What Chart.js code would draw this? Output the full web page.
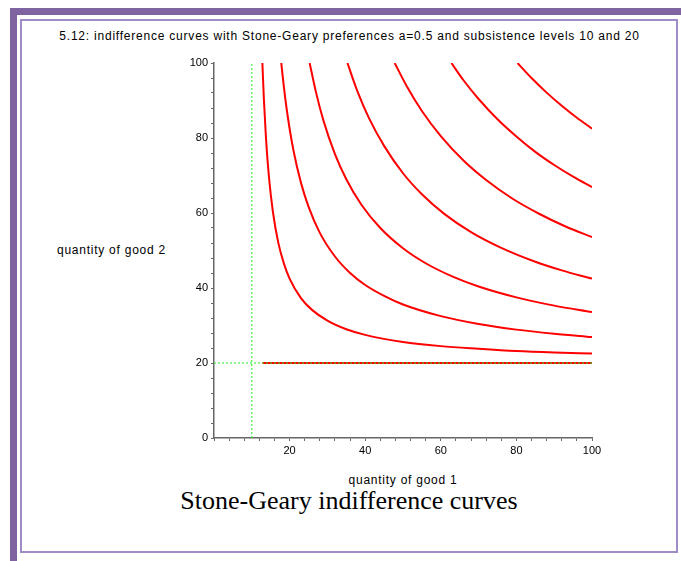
<!DOCTYPE html>
<html>
<head>
<meta charset="utf-8">
<script src="https://cdn.jsdelivr.net/npm/chart.js@4/dist/chart.umd.min.js"></script>
<style>
  html, body { margin: 0; padding: 0; background: #fff; }
  #page { position: relative; width: 681px; height: 561px; overflow: hidden; background: #fff; }
  #outer { position: absolute; left: 10px; top: 8px; width: 690px; height: 560px;
           border-left: 7px solid #8064a2; border-top: 7px solid #8064a2; border-bottom: 5px solid #8064a2; box-sizing: border-box; }
  #inner { position: absolute; left: 20px; top: 19px; width: 658px; height: 534px;
           border: 2px solid #9f8bc6; box-sizing: border-box; }
  #title { position: absolute; left: 0; width: 699px; top: 29px; text-align: center;
           font-family: "Liberation Sans", Arial, sans-serif; font-size: 12px; letter-spacing: 0.78px; color: #000; white-space: nowrap; }
  #ylab { position: absolute; left: 57px; top: 243px; font-family: "Liberation Sans", Arial, sans-serif; font-size: 12px; letter-spacing: 0.75px; color: #000; white-space: nowrap; }
  #xlab { position: absolute; left: 214px; width: 378px; top: 473px; text-align: center;
          font-family: "Liberation Sans", Arial, sans-serif; font-size: 12px; letter-spacing: 0.75px; color: #000; white-space: nowrap; }
  #caption { position: absolute; left: 0; width: 698px; top: 486px; text-align: center;
             font-family: "Liberation Serif", "Times New Roman", serif; font-size: 26px; color: #000; white-space: nowrap; }
  #cv { position: absolute; left: 0; top: 0; }
</style>
</head>
<body>
<div id="page">
  <div id="outer"></div>
  <div id="inner"></div>
  <div id="title">5.12: indifference curves with Stone-Geary preferences a=0.5 and subsistence levels 10 and 20</div>
  <div id="ylab">quantity of good 2</div>
  <div id="xlab">quantity of good 1</div>
  <div id="caption">Stone-Geary indifference curves</div>
  <canvas id="cv" width="681" height="561"></canvas>
</div>
<script>
// Tick labels shown on the axes
const xTickLabels = [20, 40, 60, 80, 100];
const yTickLabels = [0, 20, 40, 60, 80, 100];

// Indifference curves (x = good 1, y = good 2)
const curve1X = [12.8, 13.2, 13.75, 14.5, 15.6, 17, 18.5, 20, 23, 26, 30, 35, 40, 50, 60, 70, 80, 90, 100];
const curve1Y = [100, 90.3, 80, 70, 60.2, 52.1, 46.5, 42.5, 37.3, 34.1, 31.3, 29, 27.5, 25.6, 24.5, 23.8, 23.2, 22.8, 22.5];

const curve2X = [17.8, 18.5, 19.5, 21, 23, 25, 28, 32, 36, 40, 45, 50, 60, 70, 80, 90, 100];
const curve2Y = [100, 93.5, 85.8, 76.8, 68.1, 61.7, 54.7, 48.4, 44, 40.8, 37.9, 35.6, 32.5, 30.4, 28.9, 27.8, 26.9];

const curve3X = [25.3, 27, 29, 32, 35, 39, 44, 50, 56, 63, 70, 80, 90, 100];
const curve3Y = [100, 92.1, 84.5, 75.7, 69, 62.2, 56, 50.6, 46.6, 43.1, 40.4, 37.5, 35.3, 33.6];

const curve4X = [35.3, 38, 41, 45, 50, 55, 61, 68, 76, 85, 92, 100];
const curve4Y = [100, 92.3, 85.3, 77.9, 70.6, 65, 59.7, 54.9, 50.7, 47, 44.7, 42.5];

const curve5X = [47.8, 51, 55, 60, 66, 72, 79, 86, 93, 100];
const curve5Y = [100, 93.8, 87.2, 80.5, 74, 68.8, 63.8, 59.8, 56.4, 53.6];

const curve6X = [62.8, 66, 70, 75, 80, 85, 90, 95, 100];
const curve6Y = [100, 95.4, 90.4, 85, 80.4, 76.3, 72.8, 69.7, 66.9];

const curve7X = [80.3, 84, 88, 92, 96, 100];
const curve7Y = [100, 96, 92.1, 88.6, 85.4, 82.5];

// Red base line at the subsistence level of good 2
const baseX = [12.8, 100];
const baseY = [20, 20];

// Green dotted subsistence lines
const subsist1X = [10, 10];
const subsist1Y = [0, 100];
const subsist2X = [0, 100];
const subsist2Y = [20, 20];

function pts(xs, ys) { return xs.map((x, i) => ({ x: x, y: ys[i] })); }

const redCurves = [
  [curve1X, curve1Y], [curve2X, curve2Y], [curve3X, curve3Y], [curve4X, curve4Y],
  [curve5X, curve5Y], [curve6X, curve6Y], [curve7X, curve7Y]
];

const datasets = [];
datasets.push({ data: pts(subsist2X, subsist2Y), borderColor: '#22ee22', borderWidth: 1, borderDash: [2, 2], pointRadius: 0, showLine: true, order: 0 });
datasets.push({ data: pts(subsist1X, subsist1Y), borderColor: '#22ee22', borderWidth: 1, borderDash: [2, 2], pointRadius: 0, showLine: true, order: 0 });
datasets.push({ data: pts(baseX, baseY), borderColor: '#ff0000', borderWidth: 2, pointRadius: 0, showLine: true, order: 5 });
redCurves.forEach(c => {
  datasets.push({ data: pts(c[0], c[1]), borderColor: '#ff0000', borderWidth: 2, pointRadius: 0, showLine: true,
                  cubicInterpolationMode: 'monotone', order: 5 });
});

const tickFont = { family: '"Liberation Sans", Arial, sans-serif', size: 11 };

new Chart(document.getElementById('cv'), {
  type: 'scatter',
  data: { datasets: datasets },
  options: {
    responsive: false,
    animation: false,
    events: [],
    layout: { padding: { left: 174, right: 89, top: 63, bottom: 93 } },
    plugins: { legend: { display: false }, tooltip: { enabled: false }, title: { display: false } },
    scales: {
      x: {
        type: 'linear', min: 0, max: 100,
        afterFit: s => { s.height = 30; },
        ticks: {
          stepSize: 4, autoSkip: false, maxRotation: 0, color: '#000', font: tickFont, padding: 3,
          callback: v => (xTickLabels.includes(v) ? String(v) : '')
        },
        grid: { display: true, drawOnChartArea: false, drawTicks: true, tickLength: 3, color: '#666', lineWidth: 1 },
        border: { display: true, color: '#666', width: 1.5 }
      },
      y: {
        type: 'linear', min: 0, max: 100,
        afterFit: s => { s.width = 40; },
        ticks: {
          stepSize: 4, autoSkip: false, color: '#000', font: tickFont, padding: 3,
          callback: v => (yTickLabels.includes(v) ? String(v) : '')
        },
        grid: { display: true, drawOnChartArea: false, drawTicks: true, tickLength: 3, color: '#666', lineWidth: 1 },
        border: { display: true, color: '#666', width: 1.5 }
      }
    }
  }
});
</script>
</body>
</html>
